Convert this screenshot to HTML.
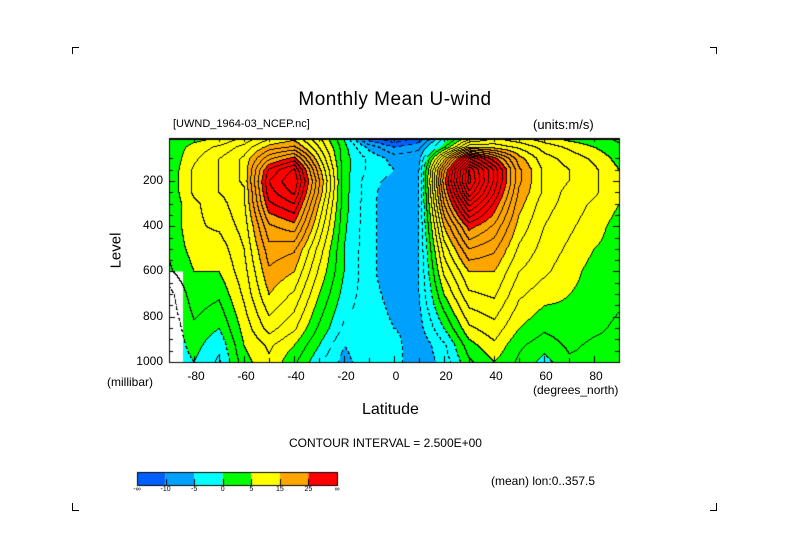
<!DOCTYPE html>
<html><head><meta charset="utf-8"><style>
body{margin:0;background:#fff;width:789px;height:558px;overflow:hidden;position:relative;font-family:"Liberation Sans",sans-serif;}
.t{position:absolute;color:#000;white-space:nowrap;}
</style></head><body>
<svg width="789" height="558" style="position:absolute;left:0;top:0">
<g stroke="#000" stroke-width="1" fill="none">
<path d="M72.5,54V47.5H79"/><path d="M716.5,54V47.5H710"/><path d="M72.5,503V510.5H79"/><path d="M716.5,503V510.5H710"/>
</g></svg>
<div class="t" style="left:230px;top:89px;width:330px;text-align:center;font-size:19px;letter-spacing:0.5px">Monthly Mean U-wind</div>
<div class="t" style="left:173px;top:118px;font-size:11px">[UWND_1964-03_NCEP.nc]</div>
<div class="t" style="left:533px;top:117px;font-size:13px">(units:m/s)</div>
<canvas id="cv" width="789" height="558" style="position:absolute;left:0;top:0"></canvas>
<div class="t" style="left:98px;top:242px;font-size:15px;transform:rotate(-90deg)">Level</div>
<div class="t" style="left:107px;top:375px;font-size:12px">(millibar)</div>
<div class="t" style="left:533px;top:383px;font-size:12px">(degrees_north)</div>
<div class="t" style="left:362px;top:401px;font-size:16px">Latitude</div>
<div class="t" style="left:289px;top:436px;font-size:12px">CONTOUR INTERVAL = 2.500E+00</div>
<div class="t" style="left:491px;top:474px;font-size:12px">(mean) lon:0..357.5</div>
<div id="labels"></div>
<script>
const lats=[-90,-80,-70,-60,-50,-40,-30,-20,-10,0,10,20,30,40,50,60,70,80,90];
const levels=[10,50,100,150,200,250,300,400,500,600,700,850,925,1000];
const uS90=[3,3,3,3,3,3,3,3,3,2,-1,-2,-2,-2];
const uS80=[4,6,7,8,8,8,7,7,6,5,4,2,1,0];
const uS70=[5,8,10,10,10,10,9,8,6,5,3,0,-2,-3];
const uS60=[8,11,13,13,13,12,12,11,10,9,8,6,5,4];
const uS50=[12,16,22,28,30,29,27,22,19,17,15,11,8,7];
const uS40=[14,18,26,33,35,33,30,24,18,15,12,8,5,3];
const uS30=[8,10,13,16,18,17,15,12,9,7,5,2,0,-2];
const uS20=[0,1,1,1,1,1,1,0.5,0,0,-1,-3,-5,-6];
const uS10=[-12,-6,-3,-3,-4,-4,-4.2,-4.2,-4.2,-4.2,-4,-3.5,-3,-3];
const uEq=[-15,-10,-6,-5,-6,-7,-7,-7,-7,-7,-6,-5,-4,-4];
const uN10=[-12,-8,-6,-5,-5,-5,-5,-5,-5,-5,-5,-6,-7,-7];
const uN20=[-2,2,14,22,24,22,20,15,11,8,5,0,-3,-4];
const uN30=[6,15,35,45,46,42,36,26,20,15,12,7,4,2];
const uN40=[10,14,26,32,32,30,27,22,18,15,13,9,7,5];
const uN50=[8,12,16,18,18,17,16,14,12,10,8,5,3,2];
const uN60=[6,9,11,12,12,12,11,10,9,8,6,3,1,-1];
const uN70=[4,7,9,10,10,9,9,8,7,6,5,4,3,2];
const uN80=[3,5,7,8,8,8,7,6,5,4,4,3,2,2];
const uN90=[2,3,4,5,5,5,5,4,4,3,3,2,2,2];
const uwind=[uS90,uS80,uS70,uS60,uS50,uS40,uS30,uS20,uS10,uEq,uN10,uN20,uN30,uN40,uN50,uN60,uN70,uN80,uN90];
const bandEdges=[-10,-5,0,5,15,25];
const bandColors=["#0060ff","#00a0ff","#00ffff","#00ff00","#ffff00","#ffa500","#ff0000"];
const legendLabels=["-\u221e","-10","-5","0","5","15","25","\u221e"];
const yTicks=[200,400,600,800,1000];
const xTicks=[-80,-60,-40,-20,0,20,40,60,80];

const X0=169,X1=619,Y0=138,Y1=362;
const xs=l=>X0+(l+90)/180*(X1-X0);
const ys=p=>Y0+(p-10)/990*(Y1-Y0);
const cv=document.getElementById('cv'),ctx=cv.getContext('2d');
const W=X1-X0,H=Y1-Y0;
function val(px,py){
  const lat=-90+px/W*180, p=10+py/H*990;
  let i=Math.min(lats.length-2,Math.max(0,Math.floor((lat+90)/10)));
  let fx=(lat-lats[i])/(lats[i+1]-lats[i]);
  let j=0;while(j<levels.length-2&&p>levels[j+1])j++;
  let fy=(p-levels[j])/(levels[j+1]-levels[j]);fy=Math.max(0,Math.min(1,fy));
  const a=uwind[i][j],b=uwind[i+1][j],c=uwind[i][j+1],d=uwind[i+1][j+1];
  return a*(1-fx)*(1-fy)+b*fx*(1-fy)+c*(1-fx)*fy+d*fx*fy;
}
function band(v){let k=0;while(k<bandEdges.length&&v>=bandEdges[k])k++;return k;}
const V=[];
for(let y=0;y<=H;y++){V[y]=[];for(let x=0;x<=W;x++)V[y][x]=val(x,y);}
for(let y=0;y<H;y++)for(let x=0;x<W;x++){ctx.fillStyle=bandColors[band(V[y][x])];ctx.fillRect(X0+x,Y0+y,1,1);}
ctx.fillStyle="#fff";ctx.fillRect(X0+1,ys(600),13,ys(1000)-ys(600));
ctx.fillStyle="#000";
for(let y=0;y<H;y++)for(let x=0;x<W;x++){
  const a=Math.floor(V[y][x]/2.5),b=Math.floor(V[y][x+1]/2.5),c=Math.floor(V[y+1][x]/2.5);
  if(a!==b||a!==c){const neg=V[y][x]<0;if(neg&&((x+y)%7)>3)continue;ctx.fillRect(X0+x,Y0+y,1,1);}
}
ctx.strokeStyle="#000";ctx.lineWidth=1;ctx.strokeRect(X0+0.5,Y0+0.5,W,H);
ctx.fillRect(X0,Y0,W,2);
for(let l=-90;l<=90;l+=10){const x=Math.round(xs(l))+0.5;ctx.beginPath();ctx.moveTo(x,Y1);ctx.lineTo(x,Y1-(l%20===0?6:4));ctx.moveTo(x,Y0);ctx.lineTo(x,Y0+4);ctx.stroke();}
for(let p=100;p<=1000;p+=50){const y=Math.round(ys(p))+0.5;const L=p%200===0?6:4;ctx.beginPath();ctx.moveTo(X0,y);ctx.lineTo(X0+L,y);ctx.moveTo(X1,y);ctx.lineTo(X1-L,y);ctx.stroke();}
const LX=137,LY=472,LW=200/7;
bandColors.forEach((c,k)=>{ctx.fillStyle=c;ctx.fillRect(LX+k*LW,LY,LW,13);});
ctx.strokeRect(LX+0.5,LY+0.5,200,13);
for(let k=1;k<7;k++){const x=Math.round(LX+k*LW)+0.5;ctx.beginPath();ctx.moveTo(x,LY+7);ctx.lineTo(x,LY+13);ctx.stroke();}
const lab=document.getElementById('labels');
function addT(txt,x,y,size,name,align){const d=document.createElement('div');d.className='t';d.textContent=txt;d.style.fontSize=size+'px';d.style.top=y+'px';
 if(align==='r'){d.style.right=(789-x)+'px';}else{d.style.left=(x-40)+'px';d.style.width='80px';d.style.textAlign='center';}
 
 
 lab.appendChild(d);}
yTicks.forEach(p=>addT(String(p),163,ys(p)-8,12,'y-tick-label','r'));
xTicks.forEach(l=>addT(String(l),xs(l)+2,369,12,'x-tick-label','c'));
legendLabels.forEach((t,k)=>addT(t,LX+k*LW,486,7,'legend-label','c'));
</script>
</body></html>
